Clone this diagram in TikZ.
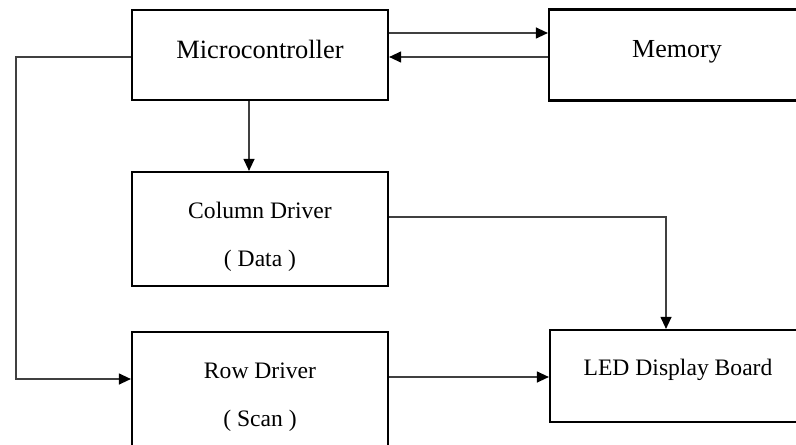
\documentclass[tikz,border=0pt]{standalone}
\usepackage{fontspec}
\setmainfont{Liberation Serif}
\usetikzlibrary{arrows.meta}

\tikzset{
  block/.style={draw=black, line width=1.1pt, minimum width=128pt, inner sep=0pt,
    align=center, font=\fontsize{11.8}{24}\selectfont},
  lift/.style={text height=9pt, text depth=#1},
  link/.style={draw=black!75, line width=0.6pt,
    -{Triangle[length=6pt,width=5.5pt,black]}},
}

\begin{document}
\begin{tikzpicture}[x=0.5pt, y=-0.5pt]
% Page frame
\useasboundingbox (0,0) rectangle (796,444);
\clip (0,0) rectangle (796,444);

% Blocks
\node[block, minimum height=45pt, lift=5.3pt, font=\fontsize{13.2}{16}\selectfont] (mcu) at (260,55) {Microcontroller};
\node[block, minimum height=45.5pt, lift=6.3pt, font=\fontsize{13}{16}\selectfont] (mem) at (677,55) {Memory};
\node[block, minimum height=57pt, text height=40.5pt] (col) at (260,229) {Column Driver\\( Data )};
\node[block, minimum height=57pt, text height=40.5pt] (row) at (260,389) {Row Driver\\( Scan )};
\node[block, minimum height=46pt, lift=9.6pt] (led) at (678,376) {LED Display Board};

% Bend of the scan line
\coordinate (rail) at (16,379);

% Connections
\draw[link] ([yshift=11pt]mcu.east) -- ([yshift=11pt]mem.west);
\draw[link] ([yshift=-1pt]mem.west) -- ([yshift=-1pt]mcu.east);
\draw[link] ([xshift=-5.5pt]mcu.south) -- ([xshift=-5.5pt]col.north);
\draw[link] ([yshift=-1pt]mcu.west) -| (rail) -- ([yshift=5pt]row.west);
\draw[link] ([yshift=6pt]col.east) -| ([xshift=-6pt]led.north);
\draw[link] ([yshift=6pt]row.east) -- ([yshift=6pt]row.east -| led.west);
\end{tikzpicture}
\end{document}
